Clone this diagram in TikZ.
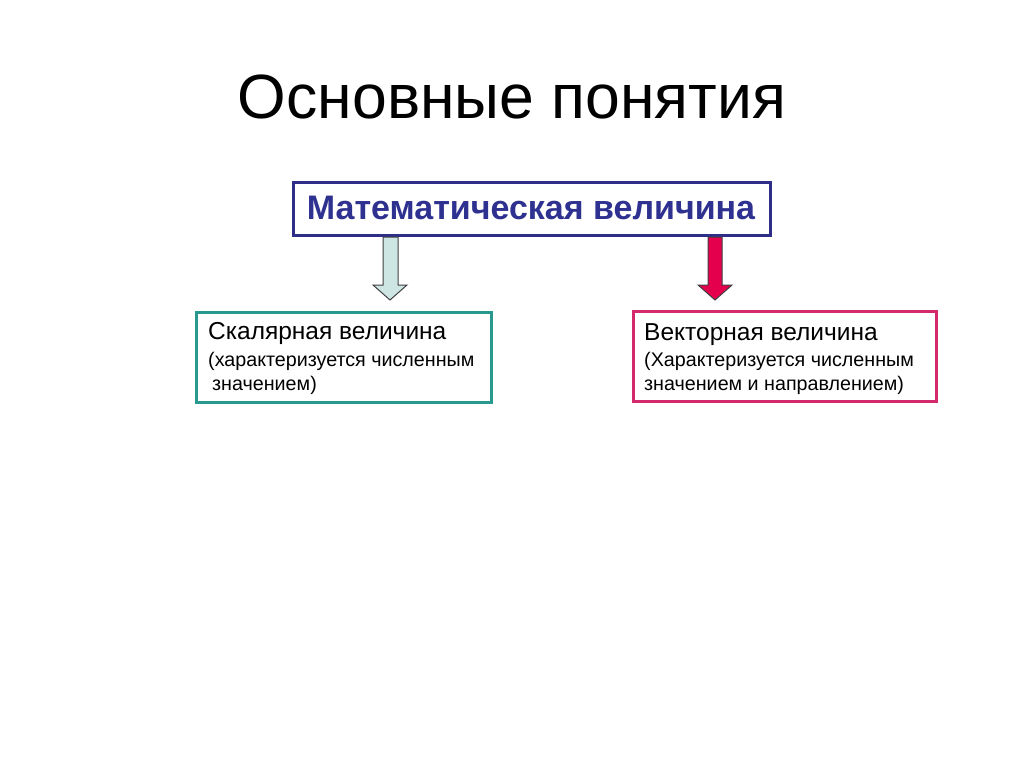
\documentclass[tikz,border=0pt]{standalone}
\usepackage{fontspec}
\setmainfont{Liberation Sans}
\definecolor{boxblue}{HTML}{2E2E88}
\definecolor{textblue}{HTML}{2E3190}
\definecolor{boxteal}{HTML}{27998F}
\definecolor{boxpink}{HTML}{D42A6C}
\definecolor{arrowcyan}{HTML}{CDE6E4}
\definecolor{arrowred}{HTML}{E5004D}
\tikzset{
  frame/.style={draw,line width=3pt,inner sep=0pt},
  txt/.style={anchor=base west,inner sep=0pt,align=left},
  blockarrow/.style={draw=black!75,line width=1pt,line join=miter},
}
\begin{document}
\begin{tikzpicture}[x=1pt,y=-1pt]
\useasboundingbox[fill=white](0,0)rectangle(1024,767);
\node[anchor=base,inner sep=0pt](title)at(512,119){\fontsize{62.5}{70}\selectfont Основные понятия};
% boxes
\node[frame,draw=boxblue,minimum width=477pt,minimum height=53pt](mag)at(532,209){};
\node[anchor=base,inner sep=0pt,text=textblue,font=\bfseries\fontsize{34}{40}\selectfont](magtext)at(531,220){Математическая величина};
\node[frame,draw=boxteal,minimum width=295pt,minimum height=90pt](scal)at(344,357.5){};
\node[frame,draw=boxpink,minimum width=303pt,minimum height=90pt](vect)at(785,356.5){};
% texts
\node[txt,font=\fontsize{24.5}{28}\selectfont](scaltitle)at(208,339){Скалярная величина};
\node[txt,font=\fontsize{19.7}{23.5}\selectfont](scalnote)at(208,390){(характеризуется численным\\\hspace{4pt}значением)};
\node[txt,font=\fontsize{24.5}{28}\selectfont](vecttitle)at(644,340){Векторная величина};
\node[txt,font=\fontsize{19.7}{23.5}\selectfont](vectnote)at(644,390){(Характеризуется численным\\значением и направлением)};
% arrows
\draw[blockarrow,fill=arrowcyan](383,237)--(398,237)--(398,285)--(407,285)--(390,300)--(373,285)--(383,285)--cycle;
\draw[blockarrow,fill=arrowred](708,237)--(722,237)--(722,285)--(732,285)--(715,300)--(698,285)--(708,285)--cycle;
\end{tikzpicture}
\end{document}
